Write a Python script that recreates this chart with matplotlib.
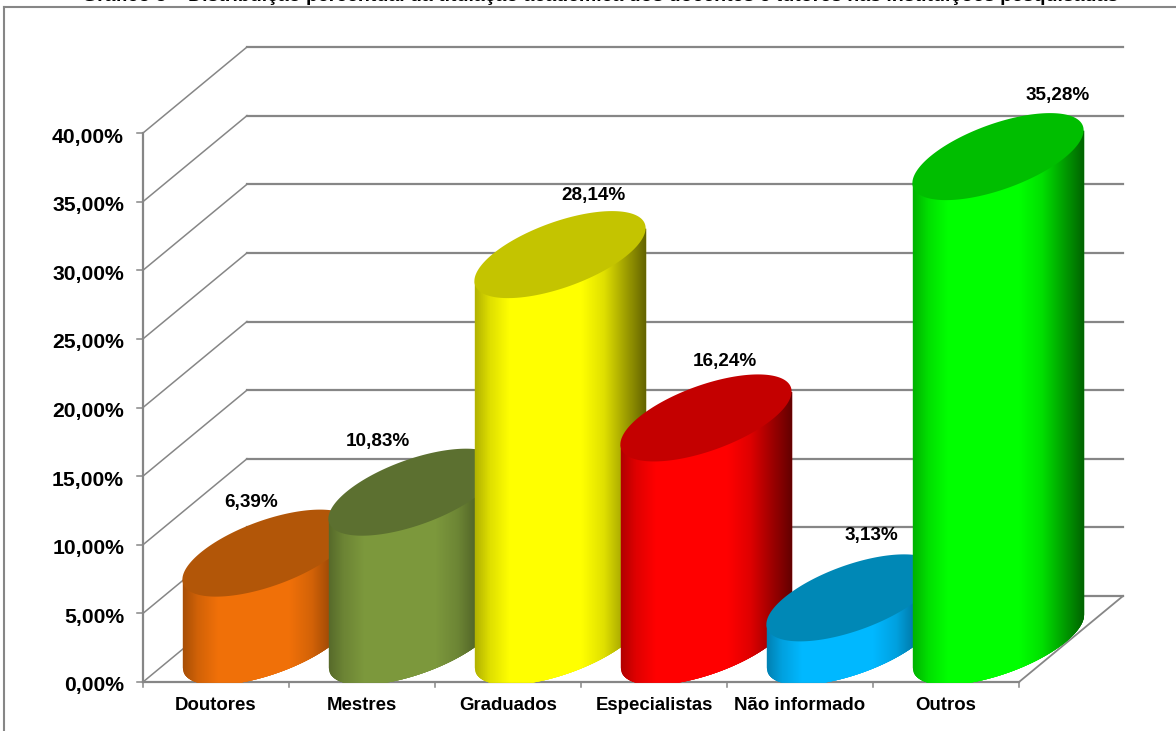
#!/usr/bin/env python3
import numpy as np
import matplotlib
matplotlib.use('Agg')
import matplotlib.pyplot as plt
from matplotlib.colors import to_rgb
from matplotlib.lines import Line2D

plt.rcParams['font.family'] = ['Liberation Sans', 'DejaVu Sans']

CATEGORIES = ['Doutores', 'Mestres', 'Graduados', 'Especialistas', 'Não informado', 'Outros']
VALUES = [6.39, 10.83, 28.14, 16.24, 3.13, 35.28]
VALUE_LABELS = ['6,39%', '10,83%', '28,14%', '16,24%', '3,13%', '35,28%']
TICKS = [0, 5, 10, 15, 20, 25, 30, 35, 40]
SIDE_COLORS = ['#f07008', '#7c983c', '#ffff00', '#ff0000', '#00b8ff', '#00ff00']
TOP_COLORS = ['#b25608', '#5c7030', '#c4c400', '#c40000', '#0088b6', '#00be00']
TITLE = ('Gráfico 5 – Distribuição percentual da titulação acadêmica '
         'dos docentes e tutores nas instituições pesquisadas')

# label offsets from the centre of each cylinder top, in pixels
LABEL_OFFSETS = [(-17, 51), (-36, 51), (33, 59), (19, 56), (19, 62), (60, 61)]

W, H = 1176, 731
GRAY = '#868686'
PX_X = 146.0      # pixels per category
PX_Y = 13.725     # pixels per percentage point
X0, Y0 = 143, 682 # axis origin in pixels
DEPTH_X = 104 / PX_X
DEPTH_Y = 86 / PX_Y
RADIUS = 68 / PX_X
CENTER_Y = 3.0    # height of the base centre above the floor line
HALF_Y = 3.17     # half height of the sheared ellipse, in percentage points
SHADE_POS = [0, 0.09, 0.2, 0.62, 0.75, 0.88, 1]
SHADE_VAL = [0.7, 0.88, 1, 1, 0.88, 0.62, 0.38]


def ellipse_arcs(n=400):
    """Lower and upper arcs of the sheared base ellipse, both left to right."""
    bx = DEPTH_X / 2
    t_r = np.arctan2(bx, RADIUS)
    lower_t = np.linspace(t_r + np.pi, t_r + 2 * np.pi, n)
    upper_t = np.linspace(t_r + np.pi, t_r, n)
    fx = lambda t: RADIUS * np.cos(t) + bx * np.sin(t)
    fy = lambda t: HALF_Y * np.sin(t)
    return fx(lower_t), fy(lower_t), fx(upper_t), fy(upper_t)


def draw_cylinder(ax, i, value, side, top):
    lx, ly, ux, uy = ellipse_arcs()
    cx = i + 0.5 + DEPTH_X / 2
    cy = CENTER_Y
    side_rgb = np.array(to_rgb(side))
    mid_all = (ly + np.interp(lx, ux, uy)) / 2

    # solid underlay so nothing behind shows through between the strips
    ax.fill_between(cx + lx, np.maximum(cy + ly, 0), cy + value + mid_all,
                    color=tuple(side_rgb * 0.8), lw=0, zorder=3 + i)

    # vertical strips for the horizontal shading of the side wall
    edges = np.linspace(lx[0], lx[-1], 171)
    width = lx[-1] - lx[0]
    for a, b in zip(edges[:-1], edges[1:]):
        pos = (a - lx[0]) / width
        shade = np.interp(pos, SHADE_POS, SHADE_VAL)
        xs = np.linspace(a, min(b + 0.012, lx[-1]), 4)
        low = np.interp(xs, lx, ly)
        mid = (low + np.interp(xs, ux, uy)) / 2
        # the base stops at the floor line
        ax.fill_between(cx + xs, np.maximum(cy + low, 0), cy + value + mid,
                        color=tuple(side_rgb * shade), lw=0, zorder=3 + i)

    ax.fill(np.r_[cx + lx, cx + ux[::-1]],
            np.r_[cy + value + ly, cy + value + uy[::-1]],
            color=top, lw=0, zorder=3 + i)


fig = plt.figure(figsize=(W / 100, H / 100), dpi=100)
ax = fig.add_axes([0, 0, 1, 1])
ax.set_xlim(-X0 / PX_X, (W - X0) / PX_X)
ax.set_ylim(-(H - Y0) / PX_Y, Y0 / PX_Y)
ax.axis('off')

n = len(CATEGORIES)

# back wall grid and the diagonals on the side wall
for t in TICKS:
    ax.plot([DEPTH_X, n + DEPTH_X], [t + DEPTH_Y] * 2, color=GRAY, lw=1.6, zorder=1)
    ax.plot([0, DEPTH_X], [t, t + DEPTH_Y], color=GRAY, lw=1.1, zorder=1)
    ax.plot([-6 / PX_X, 0], [t, t], color=GRAY, lw=1.1, zorder=1)
    ax.text(-19 / PX_X, t - 4 / PX_Y, f'{t:.2f}%'.replace('.', ','), ha='right', va='center',
            fontsize=15.2, fontweight='bold', color='black')

# floor and axes
ax.plot([0, 0], [0, TICKS[-1]], color=GRAY, lw=1.6, zorder=2)
ax.plot([0, n], [0, 0], color=GRAY, lw=1.6, zorder=2)
ax.plot([n, n + DEPTH_X], [0, DEPTH_Y], color=GRAY, lw=1.3, zorder=2)
for k in range(n + 1):
    ax.plot([k, k], [0, -5 / PX_Y], color=GRAY, lw=1.1, zorder=2)

for i, (name, value) in enumerate(zip(CATEGORIES, VALUES)):
    draw_cylinder(ax, i, value, SIDE_COLORS[i], TOP_COLORS[i])
    ax.text(i + 0.5, -24 / PX_Y, name, ha='center', va='center',
            fontsize=13.4, fontweight='bold', color='black')

for i, (label, value) in enumerate(zip(VALUE_LABELS, VALUES)):
    ax.annotate(label, (i + 0.5 + DEPTH_X / 2, CENTER_Y + value), xytext=LABEL_OFFSETS[i],
                textcoords='offset pixels', ha='center', va='center',
                fontsize=13.6, fontweight='bold', color='black', zorder=20)

# outer chart frame, open on the right and bottom
fx0, fy0 = 4 / W, 1 - 7 / H
fig.add_artist(Line2D([fx0, 1], [fy0, fy0], color=GRAY, lw=1.5))
fig.add_artist(Line2D([fx0, fx0], [fy0, 0], color=GRAY, lw=1.5))

# heading sits above the top of the canvas, only its lowest pixels remain
fig.text(600 / W, 1 - 0.6 / H, TITLE, ha='center', va='baseline',
         fontsize=14, fontweight='bold', color='black')

fig.savefig('out.png', dpi=100)
